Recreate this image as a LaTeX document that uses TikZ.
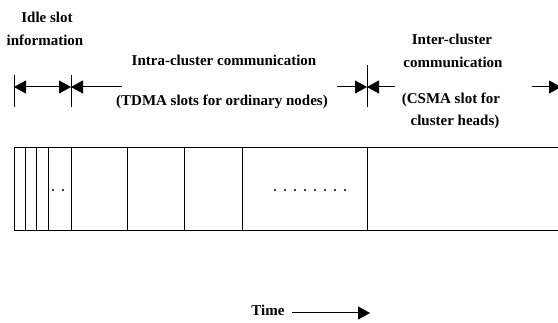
\documentclass[tikz,border=0pt]{standalone}
\usepackage{fontspec}
\setmainfont{Liberation Serif}
\usetikzlibrary{arrows.meta}
\begin{document}
\begin{tikzpicture}[x=1pt,y=-1pt,
  lbl/.style={font=\fontsize{15}{16}\selectfont\bfseries, anchor=base, inner sep=0pt},
  bar/.style={line width=1pt},
  arr/.style={line width=1pt, -{Triangle[length=12pt,width=13pt]}},
  slotline/.style={line width=1pt},
  dotmark/.style={fill=black, circle, inner sep=0pt, minimum size=2.2pt}]
\useasboundingbox (0,0) rectangle (558,323);
% texts
\node[lbl] (idle1) at (47,23) {Idle slot};
\node[lbl] (idle2) at (45,46) {information};
\node[lbl] (intra1) at (224,66) {Intra-cluster communication};
\node[lbl] (intra2) at (222,106) {(TDMA slots for ordinary nodes)};
\node[lbl] (inter1) at (452,45) {Inter-cluster};
\node[lbl] (inter2) at (453,68) {communication};
\node[lbl] (inter3) at (451,104) {(CSMA slot for};
\node[lbl] (inter4) at (455,126) {cluster heads)};
\node[lbl] (time) at (268,316) {Time};
% ticks
\coordinate (t1a) at (14,75); \coordinate (t1b) at (14,107);
\coordinate (t2a) at (71,75); \coordinate (t2b) at (71,107);
\coordinate (t3a) at (367,65); \coordinate (t3b) at (367,107);
\draw[bar] (t1a) -- (t1b);
\draw[bar] (t2a) -- (t2b);
\draw[bar] (t3a) -- (t3b);
% arrows
\coordinate (a1) at (14,87); \coordinate (a2) at (71,87);
\coordinate (a3) at (122,87);
\coordinate (a4) at (337,87); \coordinate (a5) at (367,87);
\coordinate (a6) at (395,87);
\coordinate (a7) at (532,87); \coordinate (a8) at (561,87);
\draw[arr, {Triangle[length=12pt,width=13pt]}-{Triangle[length=12pt,width=13pt]}] (a1) -- (a2);
\draw[arr] (a3) -- (a2);
\draw[arr] (a4) -- (a5);
\draw[arr] (a6) -- (a5);
\draw[arr] (a7) -- (a8);
\coordinate (ta) at (292,313); \coordinate (tb) at (370,313);
\draw[arr] (ta) -- (tb);
% frame
\draw[slotline] (580,148) -- (14,148) -- (14,231) -- (580,231);
\foreach \x in {25,36,48,71,127,184,242,367}
  \draw[slotline] (\x,148) -- (\x,231);
% dots
\foreach \x in {53,63}
  \node[dotmark] at (\x,190) {};
\foreach \x in {275,285,...,345}
  \node[dotmark] at (\x,190) {};
\end{tikzpicture}
\end{document}
